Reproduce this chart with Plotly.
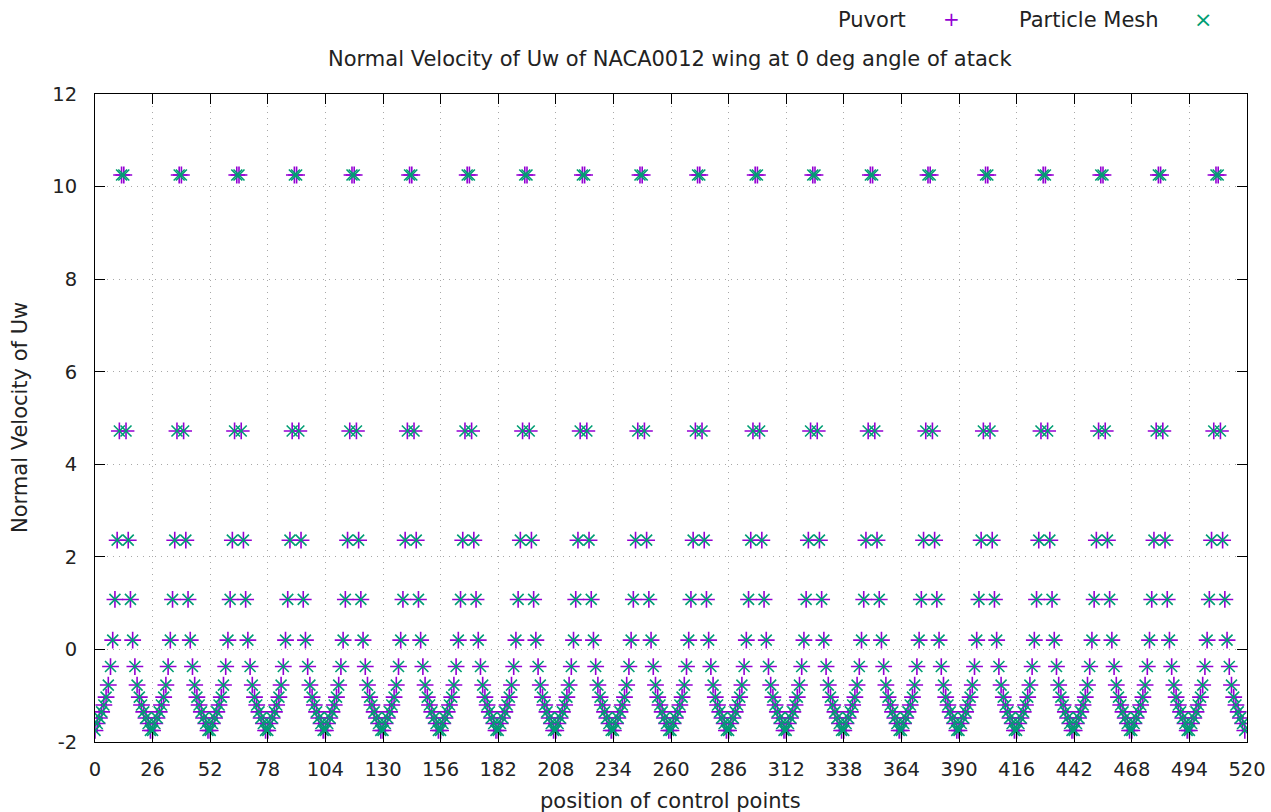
import plotly.graph_objects as go

# values for one 26-point panel, repeated for 20 panels
panel_puvort = [-1.75, -1.6, -1.48, -1.35, -1.2, -1.03, -0.77, -0.37, 0.2, 1.08, 2.36, 4.72, 10.25,
                10.25, 4.72, 2.36, 1.08, 0.2, -0.37, -0.77, -1.03, -1.2, -1.35, -1.48, -1.6, -1.75]
panel_mesh = [-1.75, -1.6, -1.48, -1.35, -1.2, -1.03, -0.77, -0.37, 0.2, 1.08, 2.36, 4.72, 10.25,
              10.25, 4.72, 2.36, 1.08, 0.2, -0.37, -0.77, -1.03, -1.2, -1.35, -1.48, -1.6, -1.75]
n_panels = 20
x_ticks = [0, 26, 52, 78, 104, 130, 156, 182, 208, 234, 260, 286, 312, 338, 364, 390, 416, 442, 468, 494, 520]
y_ticks = [-2, 0, 2, 4, 6, 8, 10, 12]

x = list(range(len(panel_puvort) * n_panels))
y_puvort = panel_puvort * n_panels
y_mesh = panel_mesh * n_panels

PURPLE = "#9400D3"
GREEN = "#009E73"
FONT = "DejaVu Sans"
TXT = "#222222"

fig = go.Figure()
fig.add_trace(go.Scatter(x=x, y=y_puvort, mode="markers", name="Puvort",
                         marker=dict(symbol="cross-thin", size=12, line=dict(color=PURPLE, width=1.6))))
fig.add_trace(go.Scatter(x=x, y=y_mesh, mode="markers", name="Particle Mesh",
                         marker=dict(symbol="x-thin", size=11, line=dict(color=GREEN, width=1.6))))

L, R, T, B = 95, 24, 94, 70
W, H = 1271, 812
pw, ph = W - L - R, H - T - B

def px(xp):
    return (xp - L) / pw

def py(yp):
    return (H - B - yp) / ph

axis_common = dict(showline=True, linecolor="black", linewidth=1, mirror="ticks",
                   ticks="inside", ticklen=10, tickcolor="black", tickwidth=1,
                   showgrid=True, gridcolor="#a8a8a8", griddash="1px,5px", gridwidth=1,
                   zeroline=False, automargin=False,
                   tickfont=dict(family=FONT, size=19.5, color=TXT))

fig.update_xaxes(range=[0, 520], tickvals=x_ticks, ticktext=[str(v) for v in x_ticks],
                 ticklabelstandoff=10, **axis_common)
fig.update_yaxes(range=[-2, 12], tickvals=y_ticks, ticktext=[str(v) for v in y_ticks],
                 ticklabelstandoff=13, **axis_common)

ann = [
    dict(text="Normal Velocity of Uw of NACA0012 wing at 0 deg angle of atack",
         x=px(670), y=py(59), xanchor="center", yanchor="middle", font=dict(size=21)),
    dict(text="position of control points", x=px(670), y=py(801),
         xanchor="center", yanchor="middle", font=dict(size=21)),
    dict(text="Normal Velocity of Uw", x=px(20), y=py(418), textangle=-90,
         xanchor="center", yanchor="middle", font=dict(size=21)),
    dict(text="Puvort", x=px(908), y=py(20), xanchor="right", yanchor="middle", font=dict(size=21)),
    dict(text="+", x=px(951), y=py(19), xanchor="center", yanchor="middle",
         font=dict(size=20, color=PURPLE)),
    dict(text="Particle Mesh", x=px(1161), y=py(20), xanchor="right", yanchor="middle", font=dict(size=21)),
    dict(text="×", x=px(1203), y=py(19), xanchor="center", yanchor="middle",
         font=dict(size=22, color=GREEN)),
]
for a in ann:
    a.setdefault("font", {})
    a["font"].setdefault("family", FONT)
    a["font"].setdefault("color", TXT)
    a.update(xref="paper", yref="paper", showarrow=False)

fig.update_layout(width=W, height=H, margin=dict(l=L, r=R, t=T, b=B),
                  plot_bgcolor="white", paper_bgcolor="white", showlegend=False,
                  annotations=ann, font=dict(family=FONT, color=TXT))

fig.write_html("out.html")
